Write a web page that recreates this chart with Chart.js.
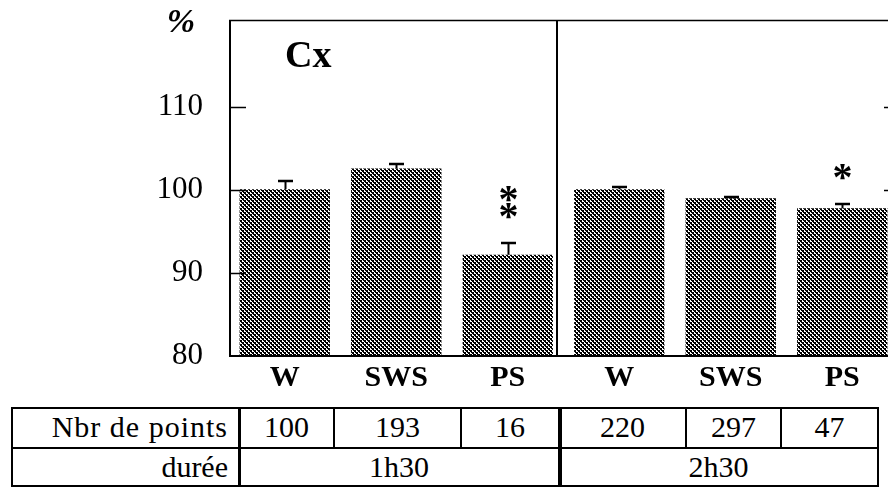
<!DOCTYPE html>
<html>
<head>
<meta charset="utf-8">
<script src="https://cdn.jsdelivr.net/npm/chart.js@4.4.1/dist/chart.umd.min.js"></script>
<style>
  html, body { margin: 0; padding: 0; background: #fff; overflow: hidden; }
  #wrap { position: relative; width: 888px; height: 488px; overflow: hidden; }
  #bars { position: absolute; left: 0; top: 0; }
  .ln { position: absolute; background: #000; }
  .txt { position: absolute; display: flex; align-items: center; justify-content: center;
         font-family: "Liberation Serif", "Times New Roman", serif; font-size: 30px; color: #000; }
  .lbl { justify-content: flex-end; padding-right: 10px; box-sizing: border-box; }
</style>
</head>
<body>
<div id="wrap">
  <canvas id="bars" width="900" height="400"></canvas>
  <div id="table"></div>
</div>
<script>
// Cx, % of baseline per vigilance state, two recording durations
const categories = ['W', 'SWS', 'PS', 'W', 'SWS', 'PS'];
const meanPct = [100.1, 102.6, 92.2, 100.1, 99.0, 97.8];
const semPct = [1.1, 0.7, 1.6, 0.4, 0.3, 0.6];
const stars = ['', '', '**', '', '', '*'];
const yTicks = [80, 90, 100, 110];

// table under the bars
const rowLabels = ['Nbr de points', 'durée'];
const nbrPoints = [100, 193, 16, 220, 297, 47];
const durees = ['1h30', '2h30'];

const SERIF = '"Liberation Serif", "Times New Roman", serif';

const canvas = document.getElementById('bars');
const ctx = canvas.getContext('2d');

// dithered grey fill for the bars (2px checker)
function makeDither() {
    const t = document.createElement('canvas');
    t.width = 4; t.height = 4;
    const g = t.getContext('2d');
    g.fillStyle = '#fff';
    g.fillRect(0, 0, 4, 4);
    g.fillStyle = '#000';
    for (let y = 0; y < 4; y++) {
        for (let x = 0; x < 4; x++) {
            if (((x >> 1) + (y >> 1)) % 2 === 0) g.fillRect(x, y, 1, 1);
        }
    }
    // one extra dot per white block so the grey reads a bit darker
    g.fillRect(3, 0, 1, 1);
    g.fillRect(1, 2, 1, 1);
    return ctx.createPattern(t, 'repeat');
}

const frame = {
    id: 'frame',
    afterDatasetsDraw(chart) {
        const c = chart.ctx;
        const a = chart.chartArea;
        const xs = chart.scales.x;
        const ys = chart.scales.y;
        const meta = chart.getDatasetMeta(0);
        c.save();
        c.strokeStyle = '#000';
        c.fillStyle = '#000';

        // box: top rule runs across, left/right axes, base line
        c.lineWidth = 1.5;
        c.beginPath();
        c.moveTo(a.left, a.top + 0.5);
        c.lineTo(a.right, a.top + 0.5);
        c.stroke();
        c.lineWidth = 2;
        c.beginPath();
        c.moveTo(a.left + 1, a.top);
        c.lineTo(a.left + 1, a.bottom);
        c.lineTo(a.right - 1, a.bottom);
        c.lineTo(a.right - 1, a.top);
        c.stroke();

        // divider between the two durations
        const xd = Math.round(xs.getPixelForValue(2.44));
        c.beginPath();
        c.moveTo(xd, a.top);
        c.lineTo(xd, a.bottom);
        c.stroke();

        // inward tick marks on both sides
        c.lineWidth = 1.5;
        yTicks.slice(1).forEach(v => {
            const y = Math.round(ys.getPixelForValue(v)) + 0.5;
            c.beginPath();
            c.moveTo(a.left, y);
            c.lineTo(a.left + 17, y);
            c.moveTo(a.right - 14, y);
            c.lineTo(a.right, y);
            c.stroke();
        });

        // error bars + significance stars
        meta.data.forEach((bar, i) => {
            const x = Math.round(bar.x) + 0.5;
            const yTop = ys.getPixelForValue(meanPct[i]);
            const yErr = Math.round(ys.getPixelForValue(meanPct[i] + semPct[i]));
            c.lineWidth = 2;
            c.beginPath();
            c.moveTo(x, yTop);
            c.lineTo(x, yErr);
            c.stroke();
            c.lineWidth = 2.5;
            c.beginPath();
            c.moveTo(x - 7.5, yErr + 1);
            c.lineTo(x + 7.5, yErr + 1);
            c.stroke();

            if (stars[i]) {
                c.font = 'bold 40px ' + SERIF;
                c.textAlign = 'center';
                c.textBaseline = 'alphabetic';
                const m = c.measureText('*');
                const off = (m.actualBoundingBoxAscent - m.actualBoundingBoxDescent) / 2;
                for (let k = 0; k < stars[i].length; k++) {
                    const cy = yErr - 31 - k * 17;
                    c.fillText('*', x, cy + off);
                }
            }
        });

        // axis unit and panel name
        c.textAlign = 'center';
        c.textBaseline = 'middle';
        c.font = 'italic bold 34px ' + SERIF;
        c.fillText('%', 181, 23);
        c.textAlign = 'left';
        c.textBaseline = 'alphabetic';
        c.font = 'bold 38px ' + SERIF;
        c.fillText('Cx', 285, 67);
        c.restore();
    }
};

new Chart(ctx, {
    type: 'bar',
    data: {
        labels: categories,
        datasets: [{
            data: meanPct,
            base: 80,
            backgroundColor: makeDither(),
            borderWidth: 0,
            categoryPercentage: 1,
            barPercentage: 0.81
        }]
    },
    options: {
        responsive: false,
        animation: false,
        devicePixelRatio: 1,
        layout: { padding: { top: 20, right: 2, left: 0, bottom: 0 } },
        plugins: {
            legend: { display: false },
            tooltip: { enabled: false }
        },
        scales: {
            x: {
                grid: { display: false, drawTicks: false },
                border: { display: false },
                ticks: {
                    color: '#000',
                    font: { family: SERIF, size: 30, weight: 'bold' },
                    padding: 4,
                    maxRotation: 0,
                    autoSkip: false
                },
                afterFit: s => {
                    s.height = 44;
                    s.paddingLeft = 0;
                    s.paddingRight = 0;
                }
            },
            y: {
                min: 80,
                max: 120.5,
                grid: { display: false, drawTicks: false },
                border: { display: false },
                afterBuildTicks: s => { s.ticks = yTicks.map(v => ({ value: v })); },
                ticks: {
                    color: '#000',
                    font: { family: SERIF, size: 31 },
                    padding: 26
                },
                afterFit: s => {
                    s.width = 229;
                    s.paddingTop = 0;
                    s.paddingBottom = 0;
                }
            }
        }
    },
    plugins: [frame]
});

// table: Nbr de points / durée
(function buildTable() {
    const host = document.getElementById('table');
    const top = 407, mid = 447, bot = 487;
    const cols = [11, 238, 333, 460, 558, 685, 780, 877];   // cell edges, row 1
    const spans = [[238, 558], [558, 877]];                  // row 2 merged cells

    function line(x, y, w, h) {
        const d = document.createElement('div');
        d.className = 'ln';
        d.style.cssText = `left:${x}px;top:${y}px;width:${w}px;height:${h}px`;
        host.appendChild(d);
    }
    function text(str, x0, x1, y0, y1, cls) {
        const d = document.createElement('div');
        d.className = 'txt' + (cls ? ' ' + cls : '');
        d.style.cssText = `left:${x0}px;top:${y0}px;width:${x1 - x0}px;height:${y1 - y0}px`;
        d.textContent = str;
        host.appendChild(d);
        return d;
    }

    line(cols[0], top, cols[7] - cols[0] + 2, 2);
    line(cols[0], mid, cols[7] - cols[0] + 2, 2);
    line(cols[0], bot - 2, cols[7] - cols[0] + 2, 2);
    line(cols[0], top, 2, bot - top);
    line(cols[1], top, 3, bot - top);
    line(cols[4], top, 4, bot - top);
    line(cols[7], top, 2, bot - top);
    [2, 3, 5, 6].forEach(k => line(cols[k], top, 2, mid - top + 2));

    text(rowLabels[0], cols[0], cols[1], top, mid, 'lbl').style.letterSpacing = '1px';
    text(rowLabels[1], cols[0], cols[1], mid, bot, 'lbl');
    nbrPoints.forEach((n, i) => text(String(n), cols[i + 1] + 2, cols[i + 2], top, mid));
    durees.forEach((d, i) => text(d, spans[i][0] + 2, spans[i][1], mid, bot));
})();
</script>
</body>
</html>
